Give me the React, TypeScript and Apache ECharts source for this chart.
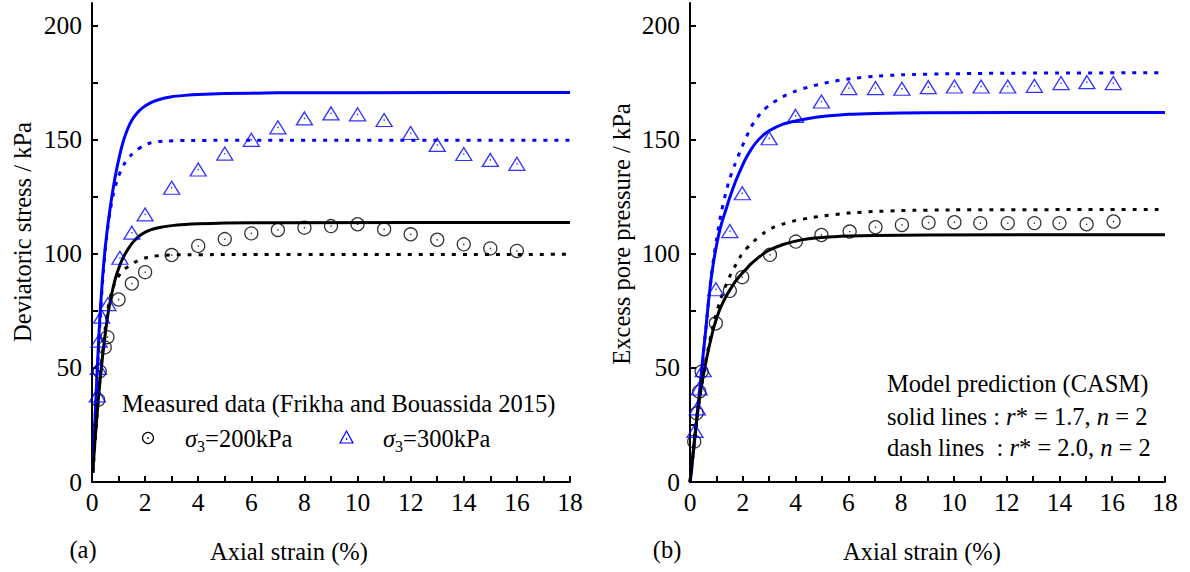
import React, { useEffect, useRef } from "react";
import * as echarts from "echarts";

// ---------- axes ----------
const xTickValues = [0, 1, 2, 3, 4, 5, 6, 7, 8, 9, 10, 11, 12, 13, 14, 15, 16, 17, 18];
const xLabelValues = [0, 2, 4, 6, 8, 10, 12, 14, 16, 18];
const yTickValues = [0, 25, 50, 75, 100, 125, 150, 175, 200];
const yLabelValues = [0, 50, 100, 150, 200];

// ---------- (a) deviatoric stress ----------
const leftMeasured200: number[][] = [
  [0.23, 36], [0.29, 48.5], [0.48, 59], [0.58, 63.5], [1.0, 80], [1.5, 87], [2, 92], [3, 99.5],
  [4, 103.5], [5, 106.5], [6, 109], [7, 110.5], [8, 111.5], [9, 112.2], [10, 113], [11, 110.8],
  [12, 108.6], [13, 106.2], [14, 104.2], [15, 102.4], [16, 101.3],
];
const leftMeasured300: number[][] = [
  [0.2, 38], [0.24, 50], [0.27, 62], [0.36, 72.5], [0.6, 78], [1.05, 98.3], [1.5, 109.3], [2, 117.3],
  [3, 129], [4, 137], [5, 144], [6, 150], [7, 155.5], [8, 159.4], [9, 161.6], [10, 161.2],
  [11, 158.7], [12, 153], [13, 147.8], [14, 143.8], [15, 141.2], [16, 139.5],
];
const leftSolid300: number[][] = [
  [0.03, 5], [0.1, 24], [0.2, 50], [0.3, 73], [0.4, 90], [0.5, 103], [0.6, 113], [0.7, 121.5],
  [0.8, 129], [0.9, 135.5], [1.0, 141], [1.1, 146], [1.2, 150.2], [1.35, 155], [1.5, 158.6],
  [1.7, 161.8], [1.9, 164], [2.2, 166.2], [2.5, 167.6], [3, 168.9], [3.5, 169.5], [4, 169.9],
  [5, 170.3], [7, 170.6], [10, 170.7], [18, 170.8],
];
const leftDash300: number[][] = [
  [0.03, 5], [0.1, 23], [0.2, 48], [0.3, 70], [0.4, 88], [0.5, 102], [0.6, 112], [0.7, 120],
  [0.8, 126], [0.9, 130.5], [1.0, 134], [1.1, 137], [1.2, 139.2], [1.35, 141.8], [1.5, 143.6],
  [1.7, 145.6], [1.9, 147.2], [2.1, 148.3], [2.4, 149.1], [2.8, 149.5], [3.5, 149.7], [5, 149.8],
  [18, 149.8],
];
const leftSolid200: number[][] = [
  [0.03, 4], [0.1, 16], [0.2, 31], [0.3, 44], [0.4, 55.5], [0.5, 65], [0.6, 73.5], [0.7, 80],
  [0.8, 85.5], [0.9, 90], [1.0, 93.5], [1.1, 96.5], [1.2, 99], [1.35, 102], [1.5, 104.5],
  [1.7, 107], [1.9, 108.8], [2.2, 110.5], [2.5, 111.5], [3, 112.4], [3.5, 112.9], [4, 113.2],
  [5, 113.5], [7, 113.7], [18, 113.8],
];
const leftDash200: number[][] = [
  [0.03, 4], [0.1, 15], [0.2, 31], [0.3, 45], [0.4, 57], [0.5, 67.5], [0.6, 76], [0.7, 81.5],
  [0.8, 85.5], [0.9, 88.2], [1.0, 90.2], [1.1, 91.8], [1.25, 93.5], [1.4, 94.8], [1.6, 96.3],
  [1.8, 97.4], [2.0, 98.2], [2.3, 99], [2.7, 99.4], [3.2, 99.6], [5, 99.7], [18, 99.8],
];

// ---------- (b) excess pore pressure ----------
const rightMeasured200: number[][] = [
  [0.16, 17.7], [0.25, 30.1], [0.35, 39.6], [0.44, 48.4], [0.98, 69.6], [1.51, 83.8], [1.98, 89.8],
  [3.03, 99.6], [4.01, 105.4], [4.98, 108.3], [6.05, 109.8], [7.03, 111.7], [8.03, 112.7],
  [9.04, 113.7], [10.02, 113.9], [11, 113.5], [12.04, 113.5], [13.05, 113.5], [14, 113.5],
  [15.03, 113], [16.05, 114.2],
];
const rightMeasured300: number[][] = [
  [0.19, 22.4], [0.28, 32.3], [0.35, 41], [0.5, 49], [0.98, 84.5], [1.51, 110], [1.98, 126.6],
  [3, 150.7], [4, 160.5], [4.98, 166.8], [6.02, 172.7], [7.03, 172.7], [8.03, 172.4],
  [9.03, 173.1], [10.02, 173.4], [11.03, 173.4], [12.04, 173.4], [13.05, 173.7], [14.06, 174.9],
  [15.04, 175.3], [16.04, 174.9],
];
const rightSolid300: number[][] = [
  [0, 0], [0.03, 2], [0.1, 10], [0.2, 21], [0.3, 33], [0.4, 44], [0.5, 56], [0.6, 67], [0.7, 79],
  [0.8, 89], [0.9, 97], [1.0, 103.5], [1.1, 109], [1.2, 113.5], [1.35, 119], [1.5, 124.5],
  [1.7, 131], [1.9, 136.5], [2.1, 141.5], [2.3, 145.5], [2.5, 148.8], [2.75, 151.8], [3, 154],
  [3.5, 156.8], [4, 158.3], [4.5, 159.4], [5, 160.2], [6, 161.2], [7, 161.6], [9, 161.9], [18, 162],
];
const rightDash300: number[][] = [
  [0, 0], [0.03, 2], [0.1, 10], [0.2, 21], [0.3, 33], [0.4, 44], [0.5, 56], [0.6, 67], [0.7, 79],
  [0.8, 89.5], [0.9, 98.5], [1.0, 106], [1.1, 113], [1.2, 119], [1.35, 126.5], [1.5, 132.8],
  [1.7, 139.2], [1.9, 145], [2.1, 150.3], [2.3, 155.4], [2.5, 159], [2.75, 162.6], [3, 165.2],
  [3.5, 168.8], [4, 171.4], [4.5, 173.2], [5, 174.6], [5.5, 175.8], [6.24, 177], [7, 177.9],
  [8, 178.5], [10, 179], [13, 179.3], [18, 179.4],
];
const rightSolid200: number[][] = [
  [0, 0], [0.1, 11], [0.2, 22], [0.3, 31.5], [0.4, 39.5], [0.5, 46.5], [0.6, 52.5], [0.7, 58],
  [0.8, 63], [0.9, 67.8], [1.0, 71.5], [1.1, 74.8], [1.2, 77.5], [1.35, 81], [1.5, 84],
  [1.7, 87.6], [1.9, 90.5], [2.1, 93], [2.3, 95.5], [2.5, 97.5], [2.75, 99.8], [3, 101.6],
  [3.5, 104], [4, 105.6], [4.5, 106.6], [5, 107.2], [6, 107.8], [7, 108.1], [9, 108.3], [18, 108.4],
];
const rightDash200: number[][] = [
  [0, 0], [0.1, 11], [0.2, 22], [0.3, 31.5], [0.4, 39.5], [0.5, 46.5], [0.6, 53], [0.7, 59],
  [0.8, 64.5], [0.9, 69.5], [1.0, 74], [1.1, 78], [1.2, 81.5], [1.35, 86], [1.5, 90], [1.7, 94.5],
  [1.9, 98.7], [2.1, 101.8], [2.3, 104.2], [2.5, 106.4], [2.8, 109.2], [3.2, 111.8], [3.6, 113.4],
  [4, 114.6], [4.5, 115.7], [5, 116.6], [6, 117.9], [7, 118.6], [8, 119], [10, 119.3], [18, 119.5],
];

const FONT = "'Liberation Serif', 'Times New Roman', Times, serif";
const FS = 24.5;
const TICK_FS = 25.5;
const BLUE = "#0000ff";
const BLACK = "#000000";

function xAxis(gridIndex: number) {
  return {
    type: "value",
    gridIndex,
    min: 0,
    max: 18,
    axisLine: { show: true, onZero: false, lineStyle: { color: BLACK, width: 2 } },
    axisTick: { show: true, inside: true, length: 6, customValues: xTickValues, lineStyle: { color: BLACK, width: 2 } },
    axisLabel: { customValues: xLabelValues, fontFamily: FONT, fontSize: TICK_FS, color: BLACK, margin: 7 },
    splitLine: { show: false },
  };
}
function yAxis(gridIndex: number) {
  return {
    type: "value",
    gridIndex,
    min: 0,
    max: 210,
    axisLine: { show: true, onZero: false, lineStyle: { color: BLACK, width: 2 } },
    axisTick: { show: true, inside: true, length: 6, customValues: yTickValues, lineStyle: { color: BLACK, width: 2 } },
    axisLabel: { customValues: yLabelValues, fontFamily: FONT, fontSize: TICK_FS, color: BLACK, margin: 10 },
    splitLine: { show: false },
  };
}

function line(data: number[][], idx: number, color: string, dashed: boolean) {
  return {
    type: "line",
    xAxisIndex: idx,
    yAxisIndex: idx,
    data,
    showSymbol: false,
    smooth: 0.2,
    lineStyle: { color, width: 3, type: dashed ? [4, 7] : "solid", cap: "butt" },
    z: 2,
  };
}
function markers(data: number[][], idx: number, color: string, tri: boolean) {
  return [
    {
      type: "scatter",
      xAxisIndex: idx,
      yAxisIndex: idx,
      data,
      symbol: tri ? "triangle" : "circle",
      symbolSize: tri ? [16, 13] : 13,
      itemStyle: { color: "rgba(0,0,0,0)", borderColor: color, borderWidth: 1.3 },
      z: 3,
    },
    {
      type: "scatter",
      xAxisIndex: idx,
      yAxisIndex: idx,
      data,
      symbol: "circle",
      symbolSize: 1.5,
      itemStyle: { color },
      z: 3,
    },
  ];
}

const txt = (text: string, x: number, y: number, align = "center", rotation = 0) => ({
  type: "text",
  x,
  y,
  rotation,
  style: { text, fontFamily: FONT, fontSize: FS, fill: BLACK, align, verticalAlign: "middle" },
});

const richBase = {
  n: { fontFamily: FONT, fontSize: FS, lineHeight: 32, verticalAlign: "middle" },
  i: { fontFamily: FONT, fontSize: FS, lineHeight: 32, fontStyle: "italic", verticalAlign: "middle" },
  s: { fontFamily: FONT, fontSize: 16, lineHeight: 16, verticalAlign: "bottom" },
};
const rich = (text: string, x: number, y: number) => ({
  type: "text",
  x,
  y,
  style: { text, rich: richBase, fill: BLACK, align: "left", verticalAlign: "middle" },
});

export default function App() {
  const ref = useRef<HTMLDivElement>(null);
  useEffect(() => {
    if (!ref.current) return;
    const chart = echarts.init(ref.current, null, { renderer: "svg" });
    chart.setOption({
      animation: false,
      backgroundColor: "#ffffff",
      grid: [
        { left: 92, top: 3, width: 478, height: 479 },
        { left: 690, top: 3, width: 475, height: 479 },
      ],
      xAxis: [xAxis(0), xAxis(1)],
      yAxis: [yAxis(0), yAxis(1)],
      series: [
        line(leftSolid300, 0, BLUE, false),
        line(leftDash300, 0, BLUE, true),
        line(leftSolid200, 0, BLACK, false),
        line(leftDash200, 0, BLACK, true),
        ...markers(leftMeasured200, 0, BLACK, false),
        ...markers(leftMeasured300, 0, BLUE, true),
        line(rightSolid300, 1, BLUE, false),
        line(rightDash300, 1, BLUE, true),
        line(rightSolid200, 1, BLACK, false),
        line(rightDash200, 1, BLACK, true),
        ...markers(rightMeasured200, 1, BLACK, false),
        ...markers(rightMeasured300, 1, BLUE, true),
      ],
      graphic: [
        txt("Deviatoric stress / kPa", 22, 232, "center", Math.PI / 2),
        txt("Excess pore pressure / kPa", 621, 234, "center", Math.PI / 2),
        txt("Axial strain (%)", 289, 551),
        txt("Axial strain (%)", 922, 551),
        txt("(a)", 83, 549),
        txt("(b)", 667, 549),
        txt("Measured data (Frikha and Bouassida 2015)", 122, 403, "left"),
        { type: "circle", shape: { cx: 148, cy: 438, r: 5.5 }, style: { fill: "none", stroke: BLACK, lineWidth: 1.2 } },
        { type: "circle", shape: { cx: 148, cy: 438, r: 0.8 }, style: { fill: BLACK } },
        { type: "polygon", shape: { points: [[346.5, 431], [340, 443], [353, 443]] }, style: { fill: "none", stroke: BLUE, lineWidth: 1.2 } },
        { type: "circle", shape: { cx: 346.5, cy: 439, r: 0.8 }, style: { fill: BLUE } },
        rich("{i|σ}{s|3}{n|=200kPa}", 185, 438),
        rich("{i|σ}{s|3}{n|=300kPa}", 383, 438),
        txt("Model prediction (CASM)", 887, 383, "left"),
        rich("{n|solid lines : }{i|r}{n|* = 1.7, }{i|n}{n| = 2}", 887, 416),
        rich("{n|dash lines  : }{i|r}{n|* = 2.0, }{i|n}{n| = 2}", 887, 447),
      ],
    });
    return () => chart.dispose();
  }, []);
  return (
    <div
      ref={ref}
      style={{ position: "fixed", left: 0, top: 0, width: 1190, height: 572, background: "#fff" }}
    />
  );
}
